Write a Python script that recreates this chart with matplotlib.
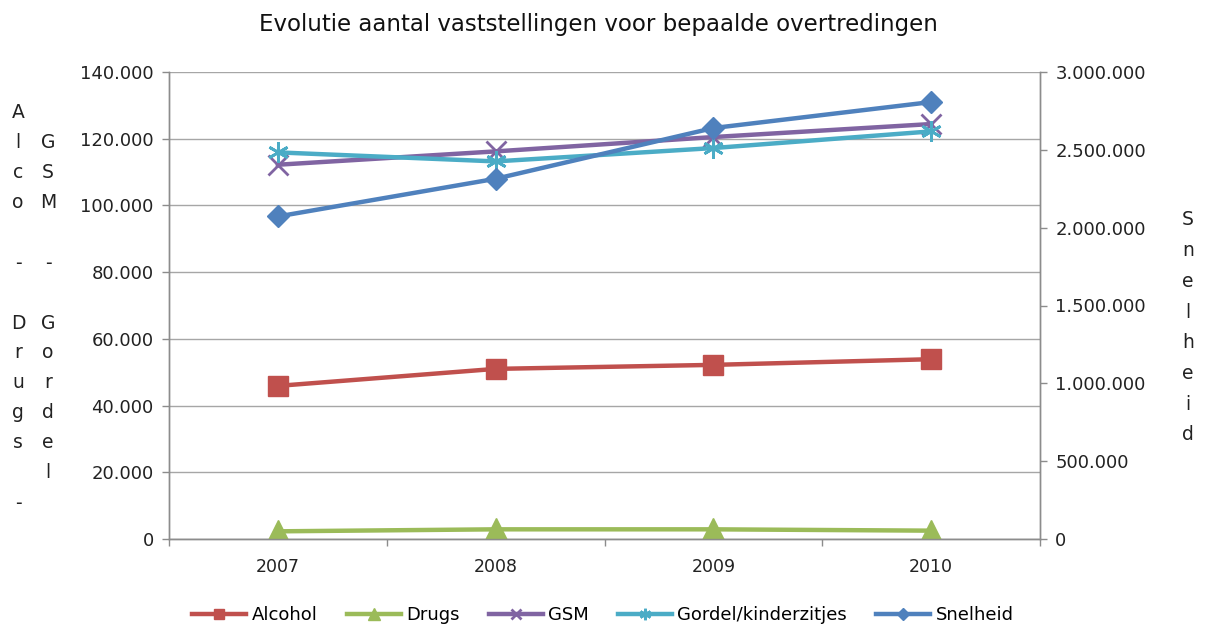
import matplotlib
matplotlib.use("Agg")
import matplotlib.pyplot as plt
from matplotlib.ticker import FuncFormatter, MultipleLocator, FixedLocator

years = ["2007", "2008", "2009", "2010"]
alcohol = [45900, 51000, 52200, 53900]
drugs = [2300, 2900, 2900, 2500]
gsm = [112200, 116200, 120500, 124400]
gordel = [115900, 113200, 117200, 122200]
snelheid = [2072000, 2314000, 2640000, 2807000]

title = "Evolutie aantal vaststellingen voor bepaalde overtredingen"
left_col1 = ["A", "l", "c", "o", "", "-", "", "D", "r", "u", "g", "s", "", "-"]
left_col2 = ["", "G", "S", "M", "", "-", "", "G", "o", "r", "d", "e", "l"]
right_label = list("Snelheid")

W, H = 1205, 628
fig = plt.figure(figsize=(W / 100, H / 100), dpi=100)
ax = fig.add_axes([169 / W, 1 - 539 / H, (1040 - 169) / W, (539 - 72) / H])
ax2 = ax.twinx()

grid_c = "#a6a6a6"
spine_c = "#8c8c8c"
x = list(range(len(years)))

lw = 3.2
ax.plot(x, alcohol, color="#C0504D", lw=lw, marker="s", ms=14, label="Alcohol", zorder=3)
ax.plot(x, drugs, color="#9BBB59", lw=lw, marker="^", ms=16, label="Drugs", zorder=3)
ax.plot(x, gsm, color="#8064A2", lw=lw, marker="x", ms=14, mew=2, label="GSM", zorder=3)
ax.plot(x, gordel, color="#4BACC6", lw=lw, marker=(6, 2, 0), ms=15, mew=2,
        label="Gordel/kinderzitjes", zorder=3)
ax2.plot(x, snelheid, color="#4F81BD", lw=lw, marker="D", ms=11, label="Snelheid", zorder=3)

ax.set_xlim(-0.5, len(years) - 0.5)
ax.set_ylim(0, 140000)
ax2.set_ylim(0, 3000000)
ax.yaxis.set_major_locator(MultipleLocator(20000))
ax2.yaxis.set_major_locator(MultipleLocator(500000))
fmt = FuncFormatter(lambda v, p: f"{int(round(v)):,}".replace(",", "."))
ax.yaxis.set_major_formatter(fmt)
ax2.yaxis.set_major_formatter(fmt)

ax.set_xticks(x)
ax.set_xticklabels(years)
ax.xaxis.set_minor_locator(FixedLocator([i - 0.5 for i in range(len(years) + 1)]))
ax.tick_params(axis="x", which="major", length=0, labelsize=12.5, pad=14, colors="#222222")
ax.tick_params(axis="x", which="minor", length=5, width=1, color=spine_c)
ax.tick_params(axis="y", length=5, width=1, color=spine_c, labelsize=13, pad=6, labelcolor="#222222")
ax2.tick_params(axis="y", length=5, width=1, color=spine_c, labelsize=13, pad=6, labelcolor="#222222")

ax.grid(axis="y", color=grid_c, lw=1, zorder=0)
ax.set_axisbelow(True)
for a in (ax, ax2):
    a.spines["top"].set_visible(False)
    for s in ("left", "right", "bottom"):
        a.spines[s].set_color(spine_c)
        a.spines[s].set_linewidth(1)

fig.text(598 / W, 1 - 25 / H, title, ha="center", va="center", fontsize=16.5, color="#111111")

def stack(letters, xc, y0, step=30):
    for i, ch in enumerate(letters):
        if ch:
            fig.text(xc / W, 1 - (y0 + i * step) / H, ch, ha="center", va="center",
                     fontsize=13.5, color="#222222")

stack(left_col1, 18, 113)
stack(left_col2, 48, 113)
stack(right_label, 1188, 220, step=30.7)

h1, l1 = ax.get_legend_handles_labels()
h2, l2 = ax2.get_legend_handles_labels()
fig.legend(h1 + h2, l1 + l2, loc="center", bbox_to_anchor=(603 / W, 1 - 615 / H), ncol=5,
           frameon=False, fontsize=13, handlelength=3.0, markerscale=0.55,
           columnspacing=1.6, handletextpad=0.3)

fig.savefig("out.png", dpi=100)
